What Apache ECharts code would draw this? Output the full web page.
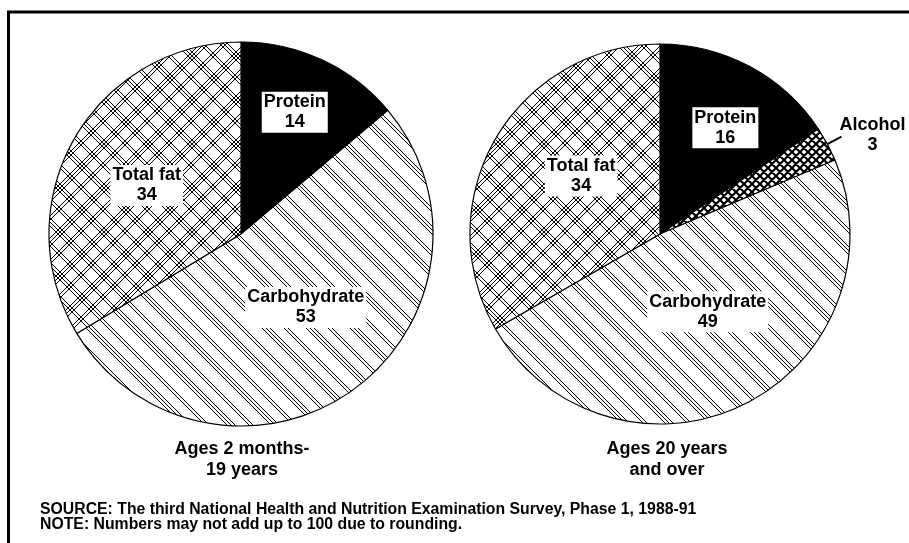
<!DOCTYPE html>
<html>
<head>
<meta charset="utf-8">
<script src="https://cdn.jsdelivr.net/npm/echarts@6/dist/echarts.min.js"></script>
<style>
  html, body { margin: 0; padding: 0; background: #fff; }
  #main { width: 909px; height: 543px; }
</style>
</head>
<body>
<div id="main"></div>
<script>
// energy share (percent of calories)
const youthNames = ['Protein', 'Carbohydrate', 'Total fat']
const youthValues = [14, 53, 34]
const adultNames = ['Protein', 'Alcohol', 'Carbohydrate', 'Total fat']
const adultValues = [16, 3, 49, 34]
const groupTitles = ['Ages 2 months-\n19 years', 'Ages 20 years\nand over']
const footnote = 'SOURCE: The third National Health and Nutrition Examination Survey, Phase 1, 1988-91\nNOTE: Numbers may not add up to 100 due to rounding.'

// label nudges from the default "inside" spot, per slice
const youthLabelShift = [[12, -32], [7, -7], [-8, 0]]
const adultLabelShift = [[19, -20], [-9, -2], [4, -10], [6, -9]]

// hatch tiles drawn on small canvases
function makeTile(size, back, slash, lineW) {
  const c = document.createElement('canvas')
  c.width = size
  c.height = size
  const ctx = c.getContext('2d')
  ctx.fillStyle = '#fff'
  ctx.fillRect(0, 0, size, size)
  ctx.strokeStyle = '#000'
  ctx.lineWidth = lineW
  ctx.beginPath()
  back.forEach(o => {
    // "\" lines: x - y = o
    ctx.moveTo(o - size, 0); ctx.lineTo(o, size)
    ctx.moveTo(o, 0); ctx.lineTo(o + size, size)
  })
  slash.forEach(o => {
    // "/" lines: x + y = o
    ctx.moveTo(o, 0); ctx.lineTo(o - size, size)
    ctx.moveTo(o + size, 0); ctx.lineTo(o, size)
  })
  ctx.stroke()
  return { image: c, repeat: 'repeat' }
}

const fills = {
  'Protein': '#000',
  'Carbohydrate': makeTile(44, [0, 4, 22, 26, 30], [], 1),
  'Total fat': makeTile(44, [0, 4, 8, 24, 28], [2, 6, 24, 28, 32], 1),
  'Alcohol': makeTile(8, [0], [0], 2.2)
}

const labelFont = {
  fontFamily: 'Liberation Sans',
  fontWeight: 'bold',
  fontSize: 18,
  lineHeight: 20,
  color: '#000'
}

function toData(names, values) {
  return names.map((n, i) => {
    const item = { name: n, value: values[i], itemStyle: { color: fills[n] } }
    if (n === 'Alcohol') {
      item.label = {
        position: 'outside',
        backgroundColor: 'transparent',
        formatter: '{c|{b}}\n{c|{c}}',
        rich: { c: Object.assign({ align: 'center' }, labelFont) }
      }
      item.labelLine = { show: true, length: 16, length2: 0, lineStyle: { color: '#000', width: 2 } }
    }
    return item
  })
}

function pieSeries(center, radius, names, values, shifts) {
  return {
    type: 'pie',
    center: center,
    radius: radius,
    startAngle: 90,
    clockwise: true,
    silent: true,
    animation: false,
    avoidLabelOverlap: false,
    itemStyle: { borderColor: '#000', borderWidth: 1.2 },
    label: Object.assign({
      show: true,
      position: 'inside',
      formatter: '{b}\n{c}',
      backgroundColor: '#fff',
      padding: [1, 2, 0, 2]
    }, labelFont),
    labelLine: { show: false },
    labelLayout: function (params) {
      const s = shifts[params.dataIndex]
      return { dx: s[0], dy: s[1] }
    },
    data: toData(names, values)
  }
}

const titleFont = { fontFamily: 'Liberation Sans', fontSize: 18, lineHeight: 21, fontWeight: 'bold', color: '#000' }

const myChart = echarts.init(document.getElementById('main'))
const option = {
  backgroundColor: '#fff',
  animation: false,
  title: [
    { text: groupTitles[0], left: 242, top: 439, padding: 0, textAlign: 'center', textStyle: titleFont },
    { text: groupTitles[1], left: 667, top: 439, padding: 0, textAlign: 'center', textStyle: titleFont },
    {
      text: footnote, left: 35, top: 497,
      textStyle: { fontFamily: 'Liberation Sans', fontSize: 15.8, lineHeight: 15, fontWeight: 'bold', color: '#000' }
    }
  ],
  graphic: [
    { type: 'line', shape: { x1: 7, y1: 12, x2: 909, y2: 12 }, style: { stroke: '#000', lineWidth: 3 } },
    { type: 'line', shape: { x1: 8.5, y1: 11, x2: 8.5, y2: 543 }, style: { stroke: '#000', lineWidth: 3 } }
  ],
  series: [
    pieSeries([241, 234], 192, youthNames, youthValues, youthLabelShift),
    pieSeries([660, 234], 190, adultNames, adultValues, adultLabelShift)
  ]
}
option && myChart.setOption(option)
</script>
</body>
</html>
